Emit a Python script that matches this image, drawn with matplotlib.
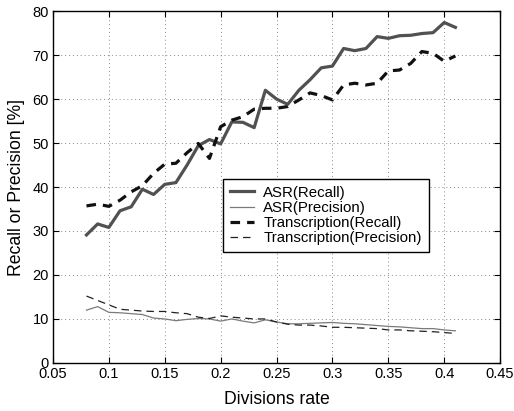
import numpy as np
import matplotlib.pyplot as plt

plt.rcParams['font.family'] = ['Liberation Sans', 'DejaVu Sans']

# divisions rate 0.08 .. 0.41
rate = [0.08, 0.09, 0.10, 0.11, 0.12, 0.13, 0.14, 0.15, 0.16, 0.17, 0.18,
        0.19, 0.20, 0.21, 0.22, 0.23, 0.24, 0.25, 0.26, 0.27, 0.28, 0.29,
        0.30, 0.31, 0.32, 0.33, 0.34, 0.35, 0.36, 0.37, 0.38, 0.39, 0.40, 0.41]

asr_recall = [29.1, 31.6, 30.8, 34.6, 35.5, 39.5, 38.3, 40.6, 41.0, 45.0, 49.4,
              50.8, 49.8, 54.8, 54.7, 53.5, 62.0, 60.0, 58.8, 62.0, 64.4, 67.1,
              67.5, 71.5, 71.0, 71.5, 74.2, 73.8, 74.4, 74.5, 74.9, 75.1, 77.4, 76.3]
asr_precision = [12.0, 12.8, 11.5, 11.4, 11.2, 11.0, 10.2, 10.0, 9.6, 9.9, 10.1,
                 10.0, 9.5, 10.0, 9.5, 9.1, 9.8, 9.3, 8.9, 8.9, 9.0, 9.1,
                 9.2, 9.0, 8.9, 8.7, 8.5, 8.3, 8.2, 8.0, 7.8, 7.8, 7.5, 7.3]
trans_recall = [35.7, 36.1, 35.6, 37.0, 38.9, 40.3, 43.1, 45.2, 45.4, 47.8, 49.9,
                46.5, 53.7, 55.2, 56.0, 57.7, 57.9, 57.9, 58.3, 59.8, 61.4, 60.8,
                59.8, 63.2, 63.6, 63.2, 63.6, 66.4, 66.6, 68.1, 70.8, 70.4, 68.6, 69.8]
trans_precision = [15.2, 14.2, 13.2, 12.2, 12.0, 11.8, 11.7, 11.7, 11.4, 11.2, 10.4,
                   10.1, 10.7, 10.4, 10.2, 10.0, 10.0, 9.3, 8.8, 8.6, 8.6, 8.4,
                   8.1, 8.1, 8.0, 7.9, 7.8, 7.5, 7.5, 7.3, 7.2, 7.1, 6.9, 6.7]

xticks = [0.05, 0.1, 0.15, 0.2, 0.25, 0.3, 0.35, 0.4, 0.45]
xticklabels = ['0.05', '0.1', '0.15', '0.2', '0.25', '0.3', '0.35', '0.4', '0.45']
yticks = [0, 10, 20, 30, 40, 50, 60, 70, 80]

fig = plt.figure(figsize=(5.14, 4.11), dpi=100, facecolor='white')
ax = fig.add_axes([0.103, 0.117, 0.870, 0.856])

ax.plot(rate, asr_recall, color='#515151', lw=2.3, label='ASR(Recall)')
ax.plot(rate, asr_precision, color='#7a7a7a', lw=0.9, label='ASR(Precision)')
ax.plot(rate, trans_recall, color='#111111', lw=2.3, dashes=(3, 2.2),
        label='Transcription(Recall)')
ax.plot(rate, trans_precision, color='#222222', lw=0.9, dashes=(6, 4),
        label='Transcription(Precision)')

ax.set_xlim(0.05, 0.45)
ax.set_ylim(0, 80)
ax.set_xticks(xticks)
ax.set_xticklabels(xticklabels)
ax.set_yticks(yticks)
ax.tick_params(direction='in', top=True, right=True, labelsize=10.5, length=4,
               width=0.8, pad=3)
ax.grid(True, linestyle=(0, (1, 3)), color='#888888', lw=0.7)
for s in ax.spines.values():
    s.set_linewidth(1.0)

ax.set_xlabel('Divisions rate', fontsize=12.7, labelpad=7)
ax.set_ylabel('Recall or Precision [%]', fontsize=12.7, labelpad=5)

leg = ax.legend(loc='lower left', bbox_to_anchor=(0.38, 0.315), fontsize=10.8,
                frameon=True, fancybox=False, edgecolor='black', framealpha=1,
                handlelength=1.6, handletextpad=0.65, borderpad=0.45,
                labelspacing=0.08, borderaxespad=0)
leg.get_frame().set_linewidth(1.0)

fig.savefig('out.png', dpi=100, facecolor='white')
